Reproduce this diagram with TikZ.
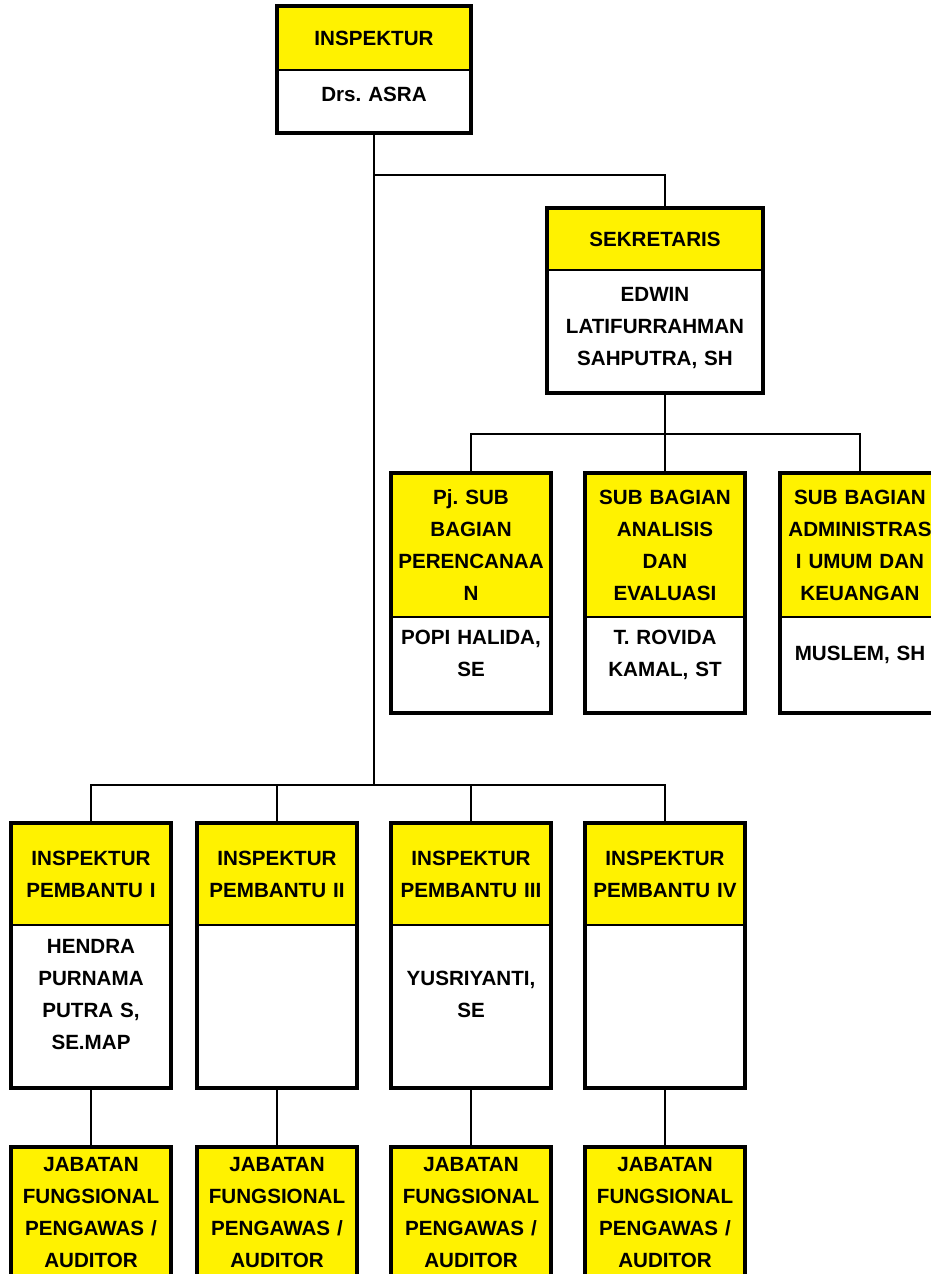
\documentclass[tikz,border=0pt]{standalone}
\usepackage{fontspec}
\setmainfont{Liberation Sans}
\frenchspacing
\usetikzlibrary{positioning}

\tikzset{
  box/.style={draw, line width=1.8pt, outer sep=0pt, inner sep=0pt, align=center,
    font=\bfseries\fontsize{20.6}{32}\selectfont},
  head/.style={box, fill=yellow},
  body/.style={box, fill=white, execute at end node={\rule[-#1]{0pt}{#1}}},
  body/.default=24pt,
  frame/.style={line width=3.4pt},
  link/.style={line width=1.8pt}
}

\begin{document}
\begin{tikzpicture}[x=1pt, y=-1pt]
\useasboundingbox (0,0) rectangle (930,1274);

% inspektur
\node[head, text width=194pt, minimum height=64pt] (insH) at (374,38) {INSPEKTUR};
\node[body=14pt, text width=194pt, minimum height=63pt, below=0pt of insH] (insB) {Drs. ASRA};
\draw[frame] (insH.north west) rectangle (insB.south east);

% sekretaris
\node[head, text width=216pt, minimum height=62pt] (sekH) at (655,239) {SEKRETARIS};
\node[body=10pt, text width=216pt, minimum height=123pt, below=0pt of sekH] (sekB) {EDWIN\\LATIFURRAHMAN\\SAHPUTRA, SH};
\draw[frame] (sekH.north west) rectangle (sekB.south east);

% sub bagian
\foreach \i/\x/\hd/\nm in {1/471/{Pj. SUB\\BAGIAN\\PERENCANAA\\N}/{POPI HALIDA,\\SE},
    2/665/{SUB BAGIAN\\ANALISIS\\DAN\\EVALUASI}/{T. ROVIDA\\KAMAL, ST},
    3/860/{SUB BAGIAN\\ADMINISTRAS\\I UMUM DAN\\KEUANGAN}/{MUSLEM, SH}} {
  \node[head, text width=160pt, minimum height=144pt] (subH\i) at (\x,545) {\hd};
  \node[body, text width=160pt, minimum height=96pt, below=0pt of subH\i] (subB\i) {\nm};
  \draw[frame] (subH\i.north west) rectangle (subB\i.south east);
}

% inspektur pembantu + jabatan fungsional
\foreach \i/\x/\hd/\nm in {1/91/I/{HENDRA\\PURNAMA\\PUTRA S,\\SE.MAP}, 2/277/II/{},
    3/471/III/{YUSRIYANTI,\\SE}, 4/665/IV/{}} {
  \node[head, text width=160pt, minimum height=102pt] (pbH\i) at (\x,874) {INSPEKTUR\\PEMBANTU \hd};
  \node[body, text width=160pt, minimum height=163pt, below=0pt of pbH\i] (pbB\i) {\nm};
  \draw[frame] (pbH\i.north west) rectangle (pbB\i.south east);
  \node[head, frame, text width=160pt, minimum height=130pt] (jab\i) at (\x,1212) {JABATAN\\FUNGSIONAL\\PENGAWAS /\\AUDITOR};
  \draw[link] (pbB\i.south) -- (jab\i.north);
}

% lines
\coordinate (sekfork) at (374,175);
\coordinate (subbus) at (665,434);
\coordinate (pbus) at (374,785);
\draw[link] (insB.south) -- (pbus);
\draw[link] (sekfork) -| (sekH.north -| subbus);
\draw[link] (sekB.south -| subbus) -- (subbus);
\draw[link] (subH1.north) |- (subbus) -| (subH3.north);
\draw[link] (subbus) -- (subH2.north);
\draw[link] (pbH1.north) |- (pbus) -| (pbH4.north);
\draw[link] (pbus -| pbH2.north) -- (pbH2.north);
\draw[link] (pbus -| pbH3.north) -- (pbH3.north);
\end{tikzpicture}
\end{document}
